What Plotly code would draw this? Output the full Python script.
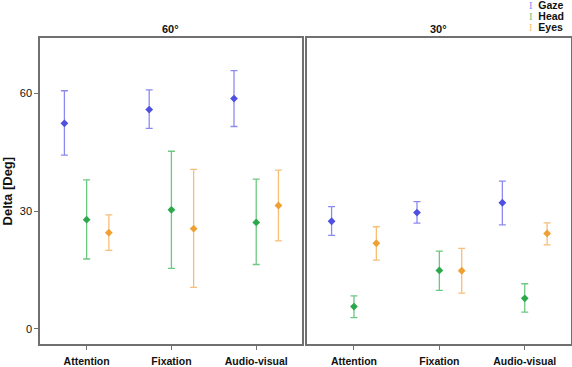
import plotly.graph_objects as go

categories = ["Attention", "Fixation", "Audio-visual"]
panels = ["60°", "30°"]
series = ["Gaze", "Head", "Eyes"]

# 60° panel: mean, upper, lower
gaze_60 = [52.3, 55.8, 58.6]
gaze_60_hi = [60.6, 60.8, 65.7]
gaze_60_lo = [44.2, 51.0, 51.5]
head_60 = [27.8, 30.3, 27.1]
head_60_hi = [37.9, 45.2, 38.1]
head_60_lo = [17.8, 15.4, 16.4]
eyes_60 = [24.5, 25.5, 31.4]
eyes_60_hi = [29.0, 40.6, 40.4]
eyes_60_lo = [20.0, 10.6, 22.4]

# 30° panel
gaze_30 = [27.4, 29.6, 32.1]
gaze_30_hi = [31.1, 32.4, 37.6]
gaze_30_lo = [23.8, 26.9, 26.5]
head_30 = [5.7, 14.9, 7.8]
head_30_hi = [8.4, 19.8, 11.5]
head_30_lo = [2.9, 9.8, 4.3]
eyes_30 = [21.8, 14.8, 24.3]
eyes_30_hi = [26.0, 20.5, 27.0]
eyes_30_lo = [17.5, 9.1, 21.4]

y_ticks = [0, 30, 60]

marker_colors = ["#4f4fe0", "#2aa84a", "#f0a030"]
bar_colors = ["#8a8af0", "#6cc880", "#f5bf78"]
offsets = [-0.262, 0.0, 0.262]

data = {
    "60°": [(gaze_60, gaze_60_hi, gaze_60_lo), (head_60, head_60_hi, head_60_lo), (eyes_60, eyes_60_hi, eyes_60_lo)],
    "30°": [(gaze_30, gaze_30_hi, gaze_30_lo), (head_30, head_30_hi, head_30_lo), (eyes_30, eyes_30_hi, eyes_30_lo)],
}

fig = go.Figure()
FONT = "Liberation Sans"
LINE = "#707070"

for pi, panel in enumerate(panels):
    xa = "x" if pi == 0 else "x2"
    ya = "y" if pi == 0 else "y2"
    for si, name in enumerate(series):
        mean, hi, lo = data[panel][si]
        xs = [i + offsets[si] for i in range(len(categories))]
        fig.add_trace(go.Scatter(
            x=xs, y=mean, mode="markers", name=name, showlegend=False,
            xaxis=xa, yaxis=ya,
            marker=dict(symbol="diamond", size=6, color=marker_colors[si]),
            error_y=dict(type="data", symmetric=False,
                         array=[h - m for h, m in zip(hi, mean)],
                         arrayminus=[m - l for m, l in zip(mean, lo)],
                         color=bar_colors[si], thickness=1.3, width=3.5),
        ))

def xaxis(domain, anchor):
    return dict(
        domain=domain, anchor=anchor,
        range=[-0.55, 2.54], tickvals=list(range(len(categories))),
        ticktext=[f"<b>{c}</b>" for c in categories],
        showline=True, mirror=True, linecolor=LINE, linewidth=1.5,
        ticks="outside", ticklen=4, tickcolor=LINE, showgrid=False, zeroline=False,
        ticklabelstandoff=2,
        tickfont=dict(family=FONT, size=10.5, color="#111"),
    )

Y_DOMAIN = [0.0463, 0.8946]
fig.update_layout(
    width=572, height=367,
    margin=dict(l=0, r=0, t=0, b=0),
    paper_bgcolor="white", plot_bgcolor="white",
    xaxis=xaxis([0.0699, 0.528], "y"),
    xaxis2=xaxis([0.5367, 0.998], "y2"),
    yaxis=dict(domain=Y_DOMAIN, anchor="x", range=[-3.9, 74], tickvals=y_ticks,
               showline=True, mirror=True, linecolor=LINE, linewidth=1.5,
               ticks="outside", ticklen=4, tickcolor=LINE,
               showgrid=False, zeroline=False,
               tickfont=dict(family=FONT, size=11, color="#111"),
               title=dict(text="<b>Delta [Deg]</b>", font=dict(family=FONT, size=13, color="#111"), standoff=10)),
    yaxis2=dict(domain=Y_DOMAIN, anchor="x2", matches="y", showticklabels=False, ticks="",
                showline=True, mirror=True, linecolor=LINE, linewidth=1.5,
                showgrid=False, zeroline=False),
    showlegend=False,
)

annotations = []
centers = [(0.0699 + 0.528) / 2, (0.5367 + 0.998) / 2]
for pi, panel in enumerate(panels):
    annotations.append(dict(text=f"<b>{panel}</b>", x=centers[pi], y=Y_DOMAIN[1], xref="paper", yref="paper",
                            xanchor="center", yanchor="bottom", yshift=1, showarrow=False,
                            font=dict(family=FONT, size=11, color="#111")))
for si, name in enumerate(series):
    annotations.append(dict(
        text=f'<span style="color:{bar_colors[si]};font-family:Liberation Serif">I</span>  <b>{name}</b>',
        x=527 / 572, y=1 - (5 + 11 * si) / 367, xref="paper", yref="paper",
        xanchor="left", yanchor="middle", showarrow=False,
        font=dict(family=FONT, size=10.5, color="#111")))
fig.update_layout(annotations=annotations)

fig.write_html("out.html", config={"displayModeBar": False},
               post_script="document.body.style.margin='0';document.body.style.overflow='hidden';")
